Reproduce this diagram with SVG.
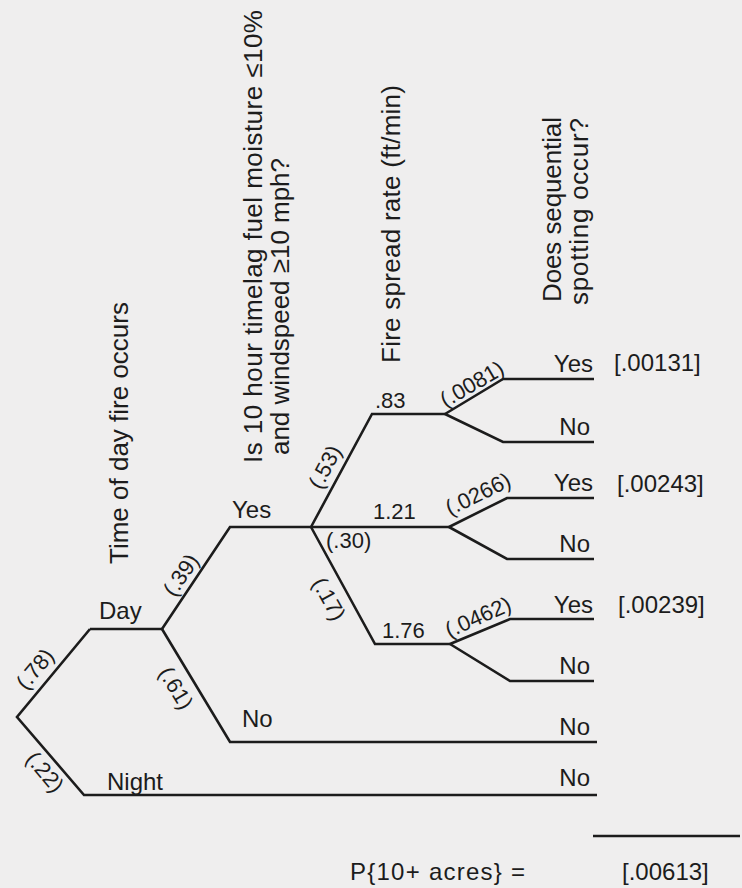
<svg xmlns="http://www.w3.org/2000/svg" width="742" height="888" viewBox="0 0 742 888">
<style>
.ln{fill:none;stroke:#1c1c1c;stroke-width:2.6;stroke-linejoin:miter;stroke-linecap:butt}
text{font-family:"Liberation Sans",Arial,sans-serif;fill:#1c1c1c}
.h{font-size:26px}
.w{font-size:24px}
.n{font-size:22px}
.c{text-anchor:middle;dominant-baseline:central}
.e{text-anchor:end}
</style>
<rect width="742" height="888" fill="#efeeee"/>
<g id="headings">
<text class="h e" transform="translate(128,302) rotate(-90)">Time of day fire occurs</text>
<text class="h" transform="translate(262,463) rotate(-90)" textLength="453" lengthAdjust="spacing">Is 10 hour timelag fuel moisture ≤10%</text>
<text class="h" transform="translate(289,455) rotate(-90)" textLength="297" lengthAdjust="spacing">and windspeed ≥10 mph?</text>
<text class="h" transform="translate(400,363) rotate(-90)" textLength="278" lengthAdjust="spacing">Fire spread rate (ft/min)</text>
<text class="h" transform="translate(561,302) rotate(-90)" textLength="185" lengthAdjust="spacing">Does sequential</text>
<text class="h" transform="translate(588,305) rotate(-90)" textLength="187" lengthAdjust="spacing">spotting occur?</text>
</g>
<g id="connectors">
<polyline class="ln" points="90,629 17,717 84,795 597,795"/>
<polyline class="ln" points="90,629 162,629"/>
<polyline class="ln" points="162,629 230,527 311,527"/>
<polyline class="ln" points="162,629 230,742 597,742"/>
<polyline class="ln" points="311,527 372,414 445,414"/>
<polyline class="ln" points="311,527 449,527"/>
<polyline class="ln" points="311,527 375,644 450,644"/>
<polyline class="ln" points="445,414 503,379 594,379"/>
<polyline class="ln" points="445,414 503,442 594,442"/>
<polyline class="ln" points="449,527 507,498 594,498"/>
<polyline class="ln" points="449,527 507,559 594,559"/>
<polyline class="ln" points="450,644 510,619 594,619"/>
<polyline class="ln" points="450,644 510,681 594,681"/>
<line class="ln" x1="593" y1="836" x2="740" y2="836"/>
</g>
<g id="node-day">
<text class="w" x="99" y="619">Day</text>
<text class="n c" transform="translate(35,669) rotate(-50)">(.78)</text>
</g>
<g id="node-night">
<text class="w" x="107" y="790">Night</text>
<text class="n c" transform="translate(45,772) rotate(50)">(.22)</text>
<text class="w e" x="590" y="786">No</text>
</g>
<g id="node-yes">
<text class="w" x="232" y="518">Yes</text>
<text class="n c" transform="translate(181,575) rotate(-56)">(.39)</text>
</g>
<g id="node-no">
<text class="w" x="242" y="727">No</text>
<text class="n c" transform="translate(176,688) rotate(59)">(.61)</text>
<text class="w e" x="590" y="735">No</text>
</g>
<g id="node-083">
<text class="n" x="375" y="408">.83</text>
<text class="n c" transform="translate(325,467) rotate(-62)">(.53)</text>
<text class="n c" transform="translate(472,384) rotate(-30)">(.0081)</text>
<text class="w e" x="593" y="372">Yes</text>
<text class="w" x="614" y="371">[.00131]</text>
<text class="w e" x="590" y="435">No</text>
</g>
<g id="node-121">
<text class="n" x="373" y="519">1.21</text>
<text class="n" x="326" y="548">(.30)</text>
<text class="n c" transform="translate(478,494) rotate(-26)">(.0266)</text>
<text class="w e" x="593" y="491">Yes</text>
<text class="w" x="617" y="492">[.00243]</text>
<text class="w e" x="590" y="552">No</text>
</g>
<g id="node-176">
<text class="n" x="382" y="638">1.76</text>
<text class="n c" transform="translate(329,599) rotate(61)">(.17)</text>
<text class="n c" transform="translate(478,617) rotate(-24)">(.0462)</text>
<text class="w e" x="593" y="613">Yes</text>
<text class="w" x="618" y="613">[.00239]</text>
<text class="w e" x="590" y="674">No</text>
</g>
<g id="total">
<text class="w" x="350" y="880" textLength="175" lengthAdjust="spacing">P{10+ acres} =</text>
<text class="w" x="622" y="880">[.00613]</text>
</g>
</svg>
